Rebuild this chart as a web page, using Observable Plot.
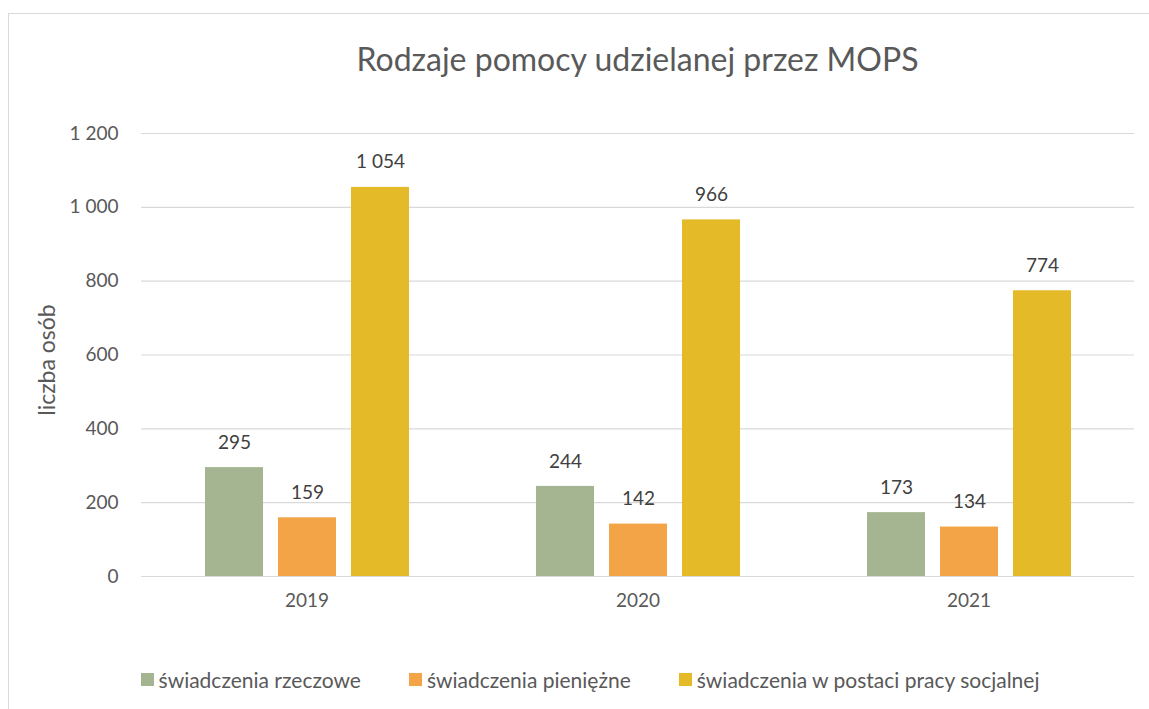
<!DOCTYPE html>
<html><head><meta charset="utf-8">
<script src="https://cdn.jsdelivr.net/npm/d3@7"></script>
<script src="https://cdn.jsdelivr.net/npm/@observablehq/plot@0.6"></script>
<style>
html,body{margin:0;padding:0;background:#fff;}
body{width:1149px;height:709px;position:relative;overflow:hidden;font-family:Lato,"Open Sans",sans-serif;color:#595959;}
#frame{position:absolute;left:8px;top:13px;width:1200px;height:760px;border:1px solid #d9d9d9;box-sizing:border-box;}
#title{position:absolute;left:140px;width:995px;top:39px;text-align:center;font-size:32px;line-height:40px;color:#595959;}
#ylabel{position:absolute;left:46px;top:360px;transform:translate(-50%,-50%) rotate(-90deg);font-size:23px;white-space:nowrap;color:#595959;}
#chart{position:absolute;left:0;top:0;}
#legend{position:absolute;left:0;width:1180px;top:667px;display:flex;justify-content:center;gap:48px;font-size:21px;color:#595959;}
.item{display:flex;align-items:center;gap:5px;}
.sw{width:13px;height:13px;display:inline-block;}
</style></head>
<body>
<div id="frame"></div>
<div id="title">Rodzaje pomocy udzielanej przez MOPS</div>
<div id="ylabel">liczba osób</div>
<div id="chart"></div>
<div id="legend"></div>
<script>
const years = ["2019", "2020", "2021"];
const series = ["świadczenia rzeczowe", "świadczenia pieniężne", "świadczenia w postaci pracy socjalnej"];
const rzeczowe = [295, 244, 173];
const pieniezne = [159, 142, 134];
const pracaSocjalna = [1054, 966, 774];
const colors = ["#A5B592", "#F3A447", "#E4BA29"];
const yTicks = [0, 200, 400, 600, 800, 1000, 1200];

const values = [rzeczowe, pieniezne, pracaSocjalna];
const data = years.flatMap((yr, i) => series.map((s, j) => ({year: yr, series: s, value: values[j][i]})));
const fmt = v => d3.format(",")(v).replace(/,/g, " ");

const chart = Plot.plot({
  width: 1149,
  height: 630,
  marginLeft: 140,
  marginRight: 14,
  marginTop: 133,
  marginBottom: 54,
  style: {fontFamily: "Lato, 'Open Sans', sans-serif", fontSize: "19px", color: "#595959", background: "transparent", overflow: "visible"},
  fx: {domain: years, padding: 0, label: null},
  x: {domain: series, paddingInner: 0.21, paddingOuter: 0.85, axis: null},
  y: {domain: [0, 1200], label: null, axis: null},
  color: {domain: series, range: colors},
  marks: [
    Plot.ruleY(yTicks, {stroke: "#d9d9d9", strokeWidth: 1.2}),
    Plot.axisY(yTicks, {tickFormat: fmt, tickSize: 0, tickPadding: 23, label: null, fill: "#595959"}),
    Plot.axisFx({anchor: "bottom", tickSize: 0, tickPadding: 17, label: null, fill: "#595959"}),
    Plot.barY(data, {fx: "year", x: "series", y: "value", fill: "series"}),
    Plot.text(data, {fx: "year", x: "series", y: "value", text: d => fmt(d.value), dy: -25, fill: "#404040"})
  ]
});
document.getElementById("chart").appendChild(chart);

const legend = document.getElementById("legend");
series.forEach((s, i) => {
  const it = document.createElement("div");
  it.className = "item";
  const sw = document.createElement("span");
  sw.className = "sw";
  sw.style.background = colors[i];
  const t = document.createElement("span");
  t.textContent = s;
  it.appendChild(sw);
  it.appendChild(t);
  legend.appendChild(it);
});
</script>
</body></html>
